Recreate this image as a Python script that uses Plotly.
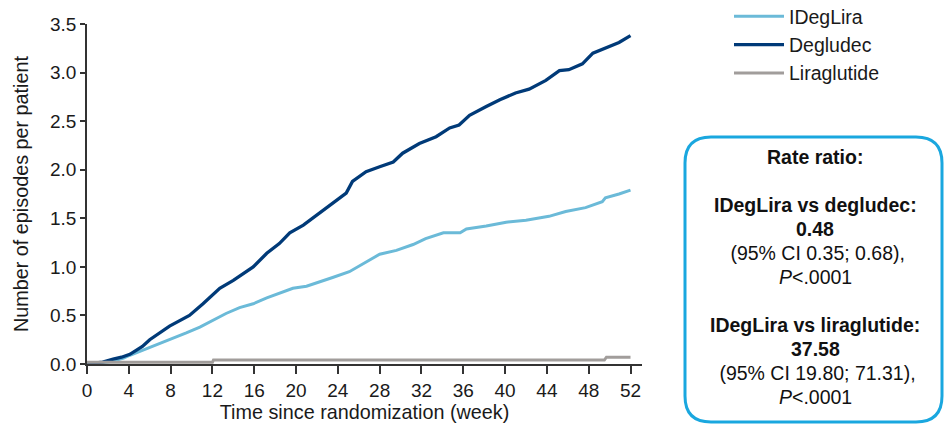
import plotly.graph_objects as go

# ---- data ----
weeks_idl = [0, 1.5, 2.5, 3.5, 4.1, 5.3, 6.6, 7.9, 9.5, 10.8, 12.1, 13.3, 14.6, 15.9, 17.2, 18.4,
             19.7, 21.0, 22.2, 23.5, 25.1, 26.7, 28.0, 29.6, 31.2, 32.4, 34.1, 35.7, 36.3, 38.2,
             40.1, 42.0, 44.2, 45.8, 47.7, 49.3, 49.6, 50.9, 52.0]
idl = [0, 0.01, 0.03, 0.06, 0.09, 0.14, 0.20, 0.25, 0.32, 0.38, 0.45, 0.52, 0.58, 0.62, 0.68, 0.73,
       0.78, 0.80, 0.84, 0.89, 0.95, 1.05, 1.13, 1.17, 1.23, 1.29, 1.35, 1.35, 1.39, 1.42,
       1.46, 1.48, 1.52, 1.57, 1.61, 1.67, 1.71, 1.75, 1.79]

weeks_deg = [0, 1.5, 2.5, 3.3, 4.1, 5.3, 6.0, 7.9, 9.8, 11.1, 12.7, 14.0, 15.9, 17.2, 18.4, 19.4,
             20.7, 22.2, 23.5, 24.8, 25.4, 26.7, 28.0, 29.3, 30.2, 31.8, 33.4, 34.7, 35.6, 36.6,
             38.2, 39.5, 41.0, 42.3, 43.9, 45.2, 46.1, 47.4, 48.4, 49.6, 50.9, 52.0]
deg = [0, 0.02, 0.05, 0.07, 0.10, 0.18, 0.25, 0.39, 0.50, 0.62, 0.78, 0.86, 1.00, 1.14, 1.24, 1.35,
       1.43, 1.55, 1.65, 1.76, 1.88, 1.98, 2.03, 2.08, 2.17, 2.27, 2.34, 2.43, 2.46, 2.56,
       2.65, 2.72, 2.79, 2.83, 2.92, 3.02, 3.03, 3.09, 3.20, 3.25, 3.31, 3.38]

weeks_lir = [0, 12.0, 12.1, 49.5, 49.7, 52.0]
lir = [0.017, 0.017, 0.04, 0.04, 0.07, 0.07]

x_ticks = list(range(0, 53, 4))
y_ticks = [0, 0.5, 1.0, 1.5, 2.0, 2.5, 3.0, 3.5]

names = ["IDegLira", "Degludec", "Liraglutide"]
colors = ["#6BBAD8", "#003A78", "#A19D9B"]

box_lines = ["<b>Rate ratio:</b>", "",
             "<b>IDegLira vs degludec:</b>", "<b>0.48</b>", " (95% CI 0.35; 0.68),", "<i>P</i>&lt;.0001", "",
             "<b>IDegLira vs liraglutide:</b>", "<b>37.58</b>", " (95% CI 19.80; 71.31),", "<i>P</i>&lt;.0001"]

FONT = "Liberation Sans, Arial, sans-serif"

fig = go.Figure()
for xs, ys, n, c, w in [(weeks_idl, idl, names[0], colors[0], 3),
                        (weeks_deg, deg, names[1], colors[1], 3.3),
                        (weeks_lir, lir, names[2], colors[2], 3)]:
    fig.add_trace(go.Scatter(x=xs, y=ys, mode="lines", name=n,
                             line=dict(color=c, width=w)))

# pixel geometry of plot area
W, H = 945, 428
L, R, T, B = 87, 642, 24, 364

def px2paper(px, py):
    return (px - L) / (R - L), (B - py) / (B - T)

def rounded_rect(x0, y0, x1, y1, r):
    def P(x, y):
        a, b = px2paper(x, y)
        return f"{a:.5f},{b:.5f}"
    d = f"M {P(x0 + r, y0)} L {P(x1 - r, y0)} Q {P(x1, y0)} {P(x1, y0 + r)} "
    d += f"L {P(x1, y1 - r)} Q {P(x1, y1)} {P(x1 - r, y1)} "
    d += f"L {P(x0 + r, y1)} Q {P(x0, y1)} {P(x0, y1 - r)} "
    d += f"L {P(x0, y0 + r)} Q {P(x0, y0)} {P(x0 + r, y0)} Z"
    return d

fig.add_shape(type="path", xref="paper", yref="paper",
              path=rounded_rect(685, 137, 942, 422, 26),
              line=dict(color="#1AA7DF", width=3), fillcolor="rgba(0,0,0,0)")

for i, t in enumerate(box_lines):
    if not t:
        continue
    ax, ay = px2paper(815, 157 + 24 * i)
    fig.add_annotation(xref="paper", yref="paper", x=ax, y=ay, text=t, showarrow=False,
                       xanchor="center", yanchor="middle",
                       font=dict(family=FONT, size=19.5, color="#111"))

lx, ly = px2paper(729, -3)
fig.update_layout(
    width=W, height=H,
    margin=dict(l=L, r=W - R, t=T, b=H - B, autoexpand=False),
    plot_bgcolor="white", paper_bgcolor="white",
    font=dict(family=FONT, size=19, color="#1a1a1a"),
    showlegend=True,
    legend=dict(x=lx, y=ly, xanchor="left", yanchor="top", font=dict(size=19.5, color="#1a1a1a"),
                bgcolor="rgba(0,0,0,0)", itemwidth=50, tracegroupgap=0),
    xaxis=dict(range=[0, 53.1], tickvals=x_ticks, ticktext=[str(v) for v in x_ticks],
               showgrid=False, zeroline=False, showline=True, linecolor="#333", linewidth=1.5,
               ticks="outside", ticklen=8, tickwidth=1.5, tickcolor="#333", automargin=False,
               title=dict(text="Time since randomization (week)", font=dict(size=19.8), standoff=6),
               tickfont=dict(size=19)),
    yaxis=dict(range=[0, 3.5], tickvals=y_ticks, ticktext=[f"{v:.1f}" for v in y_ticks],
               showgrid=False, zeroline=False, showline=True, linecolor="#333", linewidth=1.5,
               ticks="outside", ticklen=5, tickwidth=1.5, tickcolor="#333", automargin=False,
               title=dict(text="Number of episodes per patient", font=dict(size=19.8), standoff=16),
               tickfont=dict(size=19)),
)

fig.write_html("out.html", config={"displayModeBar": False},
               post_script="document.body.style.margin='0';document.body.style.padding='0';"
                           "document.body.style.overflow='hidden';")
